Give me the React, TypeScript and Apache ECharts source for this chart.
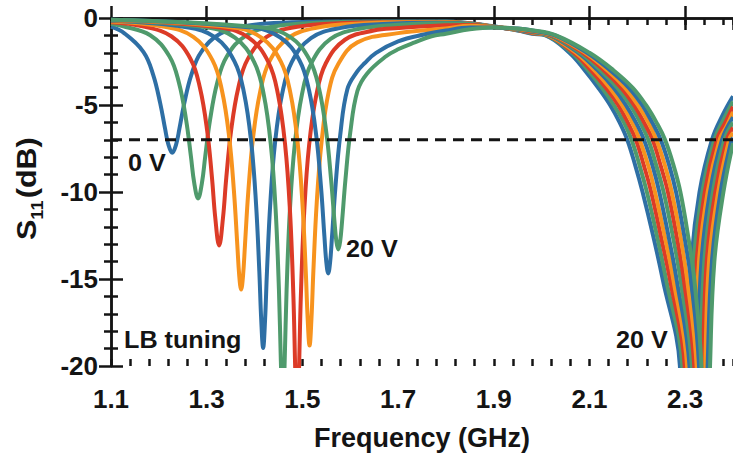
import React, { useEffect, useRef } from "react";
import * as echarts from "echarts";

// ---------- data ----------
const freqMin = 1.1;
const freqMax = 2.4;
const dbMin = -20;
const dbMax = 0;
const thresholdDb = -7;
const xTickOffsets = [0, 0.2, 0.4, 0.6, 0.8, 1.0, 1.2];

type Pt = [number, number];

// 0 V ... 20 V traces, [frequency GHz, S11 dB]
const trace1: Pt[] = [[1.10,-0.50],[1.128,-0.88],[1.168,-1.96],[1.188,-3.25],[1.203,-4.92],[1.213,-6.36],[1.220,-7.28],[1.228,-7.75],[1.236,-7.28],[1.243,-6.36],[1.253,-4.92],[1.268,-3.26],[1.288,-1.97],[1.328,-0.91],[1.388,-0.43],[1.478,-0.25],[1.58,-0.2],[1.70,-0.2],[1.80,-0.2],
  [1.85,-0.30],[1.90,-0.48],[1.95,-0.72],[1.98,-0.90],[2.008,-1],[2.058,-2],[2.090,-3],[2.118,-4],[2.143,-5],[2.163,-6],[2.179,-7],[2.196,-8.5],[2.211,-10],[2.233,-12.5],[2.253,-15],[2.289,-20],[2.297,-30],[2.306,-20],[2.313,-14],[2.330,-10],[2.356,-7],[2.378,-5.6],[2.40,-4.5]];
const trace2: Pt[] = [[1.10,-0.33],[1.122,-0.45],[1.182,-0.99],[1.222,-2.20],[1.242,-3.72],[1.257,-5.86],[1.267,-7.95],[1.274,-9.49],[1.282,-10.37],[1.290,-9.49],[1.297,-7.95],[1.307,-5.86],[1.322,-3.72],[1.342,-2.21],[1.382,-1.01],[1.442,-0.48],[1.532,-0.28],[1.65,-0.22],[1.80,-0.22],
  [1.85,-0.31],[1.90,-0.49],[1.95,-0.71],[1.98,-0.88],[2.010,-1],[2.063,-2],[2.097,-3],[2.126,-4],[2.151,-5],[2.172,-6],[2.188,-7],[2.205,-8.5],[2.220,-10],[2.241,-12.5],[2.260,-15],[2.294,-20],[2.302,-30],[2.311,-20],[2.318,-14],[2.336,-10],[2.361,-7],[2.381,-5.8],[2.40,-4.8]];
const trace3: Pt[] = [[1.10,-0.25],[1.166,-0.48],[1.226,-1.05],[1.266,-2.34],[1.286,-4.02],[1.301,-6.48],[1.311,-9.17],[1.318,-11.50],[1.326,-13.08],[1.334,-11.50],[1.341,-9.17],[1.351,-6.48],[1.366,-4.02],[1.386,-2.35],[1.426,-1.07],[1.486,-0.52],[1.576,-0.30],[1.70,-0.25],[1.80,-0.25],
  [1.85,-0.32],[1.90,-0.50],[1.95,-0.69],[1.98,-0.86],[2.013,-1],[2.067,-2],[2.103,-3],[2.134,-4],[2.160,-5],[2.180,-6],[2.197,-7],[2.214,-8.5],[2.229,-10],[2.249,-12.5],[2.268,-15],[2.299,-20],[2.307,-30],[2.316,-20],[2.324,-14],[2.341,-10],[2.366,-7],[2.384,-6.0],[2.40,-5.1]];
const trace4: Pt[] = [[1.10,-0.20],[1.212,-0.50],[1.272,-1.09],[1.312,-2.42],[1.332,-4.18],[1.347,-6.85],[1.357,-9.97],[1.364,-13.05],[1.368,-14.80],[1.372,-15.61],[1.376,-14.80],[1.380,-13.05],[1.387,-9.97],[1.397,-6.86],[1.412,-4.20],[1.432,-2.45],[1.472,-1.12],[1.532,-0.55],[1.622,-0.32],[1.72,-0.25],[1.80,-0.25],
  [1.85,-0.33],[1.90,-0.51],[1.95,-0.68],[1.98,-0.83],[2.015,-1],[2.072,-2],[2.110,-3],[2.142,-4],[2.168,-5],[2.189,-6],[2.205,-7],[2.223,-8.5],[2.237,-10],[2.257,-12.5],[2.275,-15],[2.304,-20],[2.312,-30],[2.321,-20],[2.329,-14],[2.347,-10],[2.372,-7],[2.387,-6.2],[2.40,-5.4]];
const trace5: Pt[] = [[1.10,-0.16],[1.258,-0.53],[1.318,-1.12],[1.358,-2.49],[1.378,-4.30],[1.393,-7.13],[1.403,-10.62],[1.410,-14.56],[1.414,-17.36],[1.418,-18.96],[1.422,-17.36],[1.426,-14.56],[1.433,-10.62],[1.443,-7.13],[1.458,-4.32],[1.478,-2.52],[1.518,-1.15],[1.578,-0.58],[1.668,-0.35],[1.78,-0.28],
  [1.85,-0.34],[1.90,-0.52],[1.95,-0.67],[1.98,-0.81],[2.018,-1],[2.077,-2],[2.117,-3],[2.150,-4],[2.176,-5],[2.197,-6],[2.214,-7],[2.232,-8.5],[2.246,-10],[2.265,-12.5],[2.282,-15],[2.309,-20],[2.317,-30],[2.326,-20],[2.334,-14],[2.352,-10],[2.377,-7],[2.40,-5.7]];
const trace6: Pt[] = [[1.10,-0.14],[1.299,-0.53],[1.359,-1.13],[1.399,-2.52],[1.419,-4.36],[1.434,-7.27],[1.444,-10.99],[1.451,-15.63],[1.455,-19.73],[1.459,-23.1],[1.463,-19.73],[1.467,-15.63],[1.474,-10.99],[1.484,-7.28],[1.499,-4.40],[1.519,-2.58],[1.559,-1.2],[1.619,-0.62],[1.709,-0.38],[1.80,-0.3],
  [1.85,-0.36],[1.90,-0.52],[1.95,-0.65],[1.98,-0.79],[2.020,-1],[2.081,-2],[2.123,-3],[2.158,-4],[2.185,-5],[2.206,-6],[2.223,-7],[2.240,-8.5],[2.255,-10],[2.274,-12.5],[2.290,-15],[2.314,-20],[2.322,-30],[2.332,-20],[2.340,-14],[2.358,-10],[2.382,-7],[2.40,-6.0]];
const trace7: Pt[] = [[1.10,-0.13],[1.329,-0.55],[1.389,-1.15],[1.429,-2.54],[1.449,-4.39],[1.464,-7.31],[1.474,-11.06],[1.481,-15.81],[1.485,-20.16],[1.489,-24.1],[1.493,-20.16],[1.497,-15.81],[1.504,-11.06],[1.514,-7.32],[1.529,-4.45],[1.549,-2.6],[1.589,-1.25],[1.649,-0.72],[1.70,-0.58],[1.80,-0.42],
  [1.85,-0.40],[1.90,-0.53],[1.95,-0.64],[1.98,-0.77],[2.023,-1],[2.086,-2],[2.130,-3],[2.166,-4],[2.193,-5],[2.214,-6],[2.232,-7],[2.249,-8.5],[2.264,-10],[2.282,-12.5],[2.297,-15],[2.319,-20],[2.327,-30],[2.337,-20],[2.345,-14],[2.363,-10],[2.387,-7],[2.40,-6.3]];
const trace8: Pt[] = [[1.10,-0.12],[1.355,-0.55],[1.415,-1.14],[1.455,-2.51],[1.475,-4.32],[1.490,-7.14],[1.500,-10.61],[1.507,-14.52],[1.511,-17.26],[1.515,-18.82],[1.519,-17.26],[1.523,-14.52],[1.530,-10.61],[1.540,-7.15],[1.555,-4.25],[1.575,-2.65],[1.615,-1.40],[1.70,-0.87],[1.80,-0.6],
  [1.85,-0.45],[1.90,-0.53],[1.95,-0.63],[1.98,-0.74],[2.025,-1],[2.091,-2],[2.137,-3],[2.174,-4],[2.201,-5],[2.223,-6],[2.240,-7],[2.258,-8.5],[2.272,-10],[2.290,-12.5],[2.304,-15],[2.324,-20],[2.332,-30],[2.342,-20],[2.350,-14],[2.369,-10],[2.392,-7],[2.40,-6.6]];
const trace9: Pt[] = [[1.10,-0.10],[1.394,-0.55],[1.454,-1.12],[1.494,-2.44],[1.514,-4.17],[1.529,-6.77],[1.539,-9.74],[1.546,-12.54],[1.550,-14.02],[1.554,-14.68],[1.558,-14.02],[1.562,-12.54],[1.569,-9.74],[1.579,-6.75],[1.594,-4.10],[1.614,-3.10],[1.630,-2.60],[1.654,-2.00],[1.70,-1.34],[1.754,-0.95],[1.80,-0.72],
  [1.85,-0.55],[1.90,-0.54],[1.95,-0.61],[1.98,-0.72],[2.028,-1],[2.095,-2],[2.143,-3],[2.182,-4],[2.210,-5],[2.231,-6],[2.249,-7],[2.267,-8.5],[2.281,-10],[2.298,-12.5],[2.312,-15],[2.329,-20],[2.337,-30],[2.347,-20],[2.356,-14],[2.374,-10],[2.397,-7],[2.40,-6.9]];
const trace10: Pt[] = [[1.10,-0.10],[1.415,-0.55],[1.475,-1.10],[1.515,-2.40],[1.535,-4.08],[1.550,-6.57],[1.560,-9.29],[1.567,-11.67],[1.571,-12.83],[1.575,-13.30],[1.579,-12.83],[1.583,-11.67],[1.590,-9.29],[1.600,-6.60],[1.615,-4.20],[1.635,-3.20],[1.675,-2.20],[1.70,-1.80],[1.735,-1.40],[1.77,-1.05],[1.80,-0.90],
  [1.85,-0.65],[1.90,-0.55],[1.95,-0.60],[1.98,-0.70],[2.030,-1],[2.100,-2],[2.150,-3],[2.190,-4],[2.218,-5],[2.240,-6],[2.258,-7],[2.276,-8.5],[2.290,-10],[2.306,-12.5],[2.319,-15],[2.334,-20],[2.342,-30],[2.352,-20],[2.361,-14],[2.380,-10],[2.40,-7.2]];

const traces: Pt[][] = [trace1, trace2, trace3, trace4, trace5, trace6, trace7, trace8, trace9, trace10];

const BLUE = "#2e6fa5";
const GREEN = "#4f9a6c";
const RED = "#dc3b27";
const ORANGE = "#f7931e";
const traceColors = [BLUE, GREEN, RED, ORANGE, BLUE, GREEN, RED, ORANGE, BLUE, GREEN];

const annotations = [
  { text: "0 V", x: 128, y: 163 },
  { text: "20 V", x: 346, y: 249 },
  { text: "LB tuning", x: 124, y: 340 },
  { text: "20 V", x: 616, y: 340 },
];

const FONT = '"Liberation Sans", Arial, Helvetica, sans-serif';
const INK = "#141414";

export default function App() {
  const ref = useRef<HTMLDivElement>(null);
  useEffect(() => {
    document.body.style.margin = "0";
    if (!ref.current) return;
    const chart = echarts.init(ref.current, undefined, { renderer: "svg" });
    const span = freqMax - freqMin;
    const axisLine = { show: true, lineStyle: { color: INK, width: 2.5 } };
    const tickAxis = (position: "top" | "bottom", interval: number, len: number, labels: boolean) => ({
      type: "value",
      position,
      min: 0,
      max: span,
      interval,
      axisLine: { show: false },
      axisTick: { show: true, inside: true, length: len, lineStyle: { color: INK, width: 2.5 } },
      axisLabel: labels
        ? {
            show: true,
            margin: 20,
            color: INK,
            fontSize: 26,
            fontWeight: "bold",
            fontFamily: FONT,
            showMaxLabel: false,
            formatter: (v: number) => (xTickOffsets.some((o) => Math.abs(o - v) < 1e-6) ? (v + freqMin).toFixed(1) : ""),
          }
        : { show: false },
      splitLine: { show: false },
      ...(labels && position === "bottom"
        ? {
            name: "Frequency (GHz)",
            nameLocation: "middle",
            nameGap: 58,
            nameTextStyle: { color: INK, fontSize: 27, fontWeight: "bold", fontFamily: FONT },
          }
        : {}),
    });
    const dataXAxis = (position: "top" | "bottom") => ({
      type: "value",
      position,
      min: freqMin,
      max: freqMax,
      axisLine,
      axisTick: { show: false },
      axisLabel: { show: false },
      splitLine: { show: false },
    });
    const yAx = (position: "left" | "right", labels: boolean) => ({
      type: "value",
      position,
      min: dbMin,
      max: dbMax,
      interval: 5,
      axisLine,
      axisTick: { show: true, inside: true, length: 12, lineStyle: { color: INK, width: 2.5 } },
      minorTick: { show: true, splitNumber: 5, length: 7, lineStyle: { color: INK, width: 2.5 } },
      axisLabel: labels
        ? { show: true, margin: 13, color: INK, fontSize: 26, fontWeight: "bold", fontFamily: FONT }
        : { show: false },
      splitLine: { show: false },
      minorSplitLine: { show: false },
    });

    const series: any[] = traces.map((t, i) => ({
      type: "line",
      xAxisIndex: 0,
      yAxisIndex: 0,
      data: t,
      showSymbol: false,
      smooth: 0.4,
      lineStyle: { color: traceColors[i], width: 4 },
      itemStyle: { color: traceColors[i] },
      z: 2 + i * 0.01,
    }));
    series.push({
      type: "line",
      xAxisIndex: 0,
      yAxisIndex: 0,
      data: [
        [freqMin, thresholdDb],
        [freqMax, thresholdDb],
      ],
      showSymbol: false,
      lineStyle: { color: INK, width: 3, type: [11, 7] },
      z: 5,
    });

    const textStyle = (text: string, size: number) => ({
      text,
      font: `bold ${size}px ${FONT}`,
      fill: INK,
      align: "left",
      verticalAlign: "middle",
    });

    chart.setOption({
      animation: false,
      grid: { left: 111, right: -2, top: 18, bottom: 84, containLabel: false },
      xAxis: [
        dataXAxis("bottom"),
        tickAxis("bottom", 0.2, 12, true),
        tickAxis("bottom", 0.04, 7, false),
        dataXAxis("top"),
        tickAxis("top", 0.2, 12, false),
        tickAxis("top", 0.04, 7, false),
      ],
      yAxis: [yAx("left", true), yAx("right", false)],
      series,
      graphic: [
        ...annotations.map((a) => ({ type: "text", x: a.x, y: a.y, z: 10, scaleX: 1.05, style: textStyle(a.text, 24) })),
        {
          type: "group",
          x: 40,
          y: 240,
          rotation: Math.PI / 2,
          scaleX: 1.13,
          children: [
            { type: "text", x: 0, y: 0, style: { text: "S", font: `bold 27px ${FONT}`, fill: INK, align: "left", verticalAlign: "bottom" } },
            { type: "text", x: 18, y: 6, style: { text: "11", font: `bold 16px ${FONT}`, fill: INK, align: "left", verticalAlign: "bottom" } },
            { type: "text", x: 37, y: 0, style: { text: "(dB)", font: `bold 27px ${FONT}`, fill: INK, align: "left", verticalAlign: "bottom" } },
          ],
        },
      ],
    });
    return () => chart.dispose();
  }, []);
  return <div ref={ref} style={{ width: 733, height: 456 }} />;
}
